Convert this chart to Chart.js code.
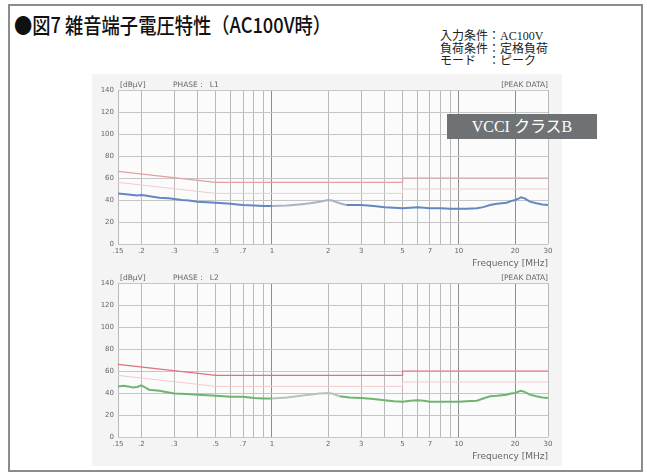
<!DOCTYPE html>
<html>
<head>
<meta charset="utf-8">
<script src="https://cdn.jsdelivr.net/npm/chart.js@4.4.0/dist/chart.umd.min.js"></script>
<style>
  body { margin: 0; background: #fff; width: 647px; height: 472px; overflow: hidden; position: relative;
         font-family: "Noto Sans CJK JP", sans-serif; }
  #frame { position: absolute; left: 8px; top: 4px; width: 631px; height: 464px; border: 2px solid #8c8c8c; }
  #title { position: absolute; left: 14px; top: 9px; font-size: 21px; font-weight: 500; color: #111; white-space: nowrap;
           transform: scaleX(0.87); transform-origin: left top; }
  #cond { position: absolute; left: 440px; top: 30px; font-size: 12px; line-height: 12.5px; color: #222;
          font-family: "Liberation Serif", "Noto Sans CJK JP", serif; white-space: nowrap; }
  #scan { position: absolute; left: 92px; top: 74px; width: 470px; height: 392px; background: #f4f4f4; }
  canvas { position: absolute; left: 92px; }
  #c1 { top: 74px; }
  #c2 { top: 267px; }
  #vcci { position: absolute; left: 447px; top: 114px; width: 150px; height: 25px; background: #6e7274; color: #fff;
          font-family: "Liberation Serif", "Noto Sans CJK JP", serif; font-size: 16px; line-height: 25px; text-align: center; }
</style>
</head>
<body>
<div id="frame"></div>
<div id="title">●図7 雑音端子電圧特性（AC100V時）</div>
<div id="cond">入力条件：AC100V<br>負荷条件：定格負荷<br>モード　：ピーク</div>
<div id="scan"></div>
<canvas id="c1" width="470" height="196"></canvas>
<canvas id="c2" width="470" height="196"></canvas>
<div id="vcci">VCCI クラスB</div>
<script>
// grid / tick values (MHz, dBuV)
const xGrid = [0.15, 0.2, 0.3, 0.4, 0.5, 0.6, 0.7, 0.8, 0.9, 1, 2, 3, 4, 5, 6, 7, 8, 9, 10, 20, 30];
const xLabelValues = [0.15, 0.2, 0.3, 0.5, 0.7, 1, 2, 3, 5, 7, 10, 20, 30];
const xLabelTexts = ['.15', '.2', '.3', '.5', '.7', '1', '2', '3', '5', '7', '10', '20', '30'];
const yMin = 0, yMax = 140, yStep = 10;

// VCCI class B limits
const limitFreq = [0.15, 0.5, 0.5, 5, 5, 30];
const limitQp = [66, 56, 56, 56, 60, 60];
const limitAv = [56, 46, 46, 46, 50, 50];

// measured peak, phase L1
const l1Freq = [0.15, 0.16, 0.17, 0.18, 0.19, 0.2, 0.21, 0.23, 0.25, 0.28, 0.3, 0.33, 0.36, 0.4, 0.45, 0.5, 0.55, 0.6, 0.65, 0.7, 0.8, 0.9, 1.0,
  1.2, 1.4, 1.6, 1.8, 2.0, 2.1, 2.3, 2.5, 2.8, 3.0, 3.5, 4.0, 4.5, 5.0, 5.5, 6.0, 6.5, 7.0, 8.0, 9.0, 10, 11, 12.5, 13.5, 14.7,
  16, 17, 18, 19, 20, 21, 21.5, 22.5, 24, 26, 28, 30];
const l1Level = [46, 45.5, 45, 44.5, 44, 44.5, 44, 43, 42, 41.5, 41, 40, 39.5, 38.5, 38, 37.5, 37, 36.5, 36, 35.5, 35, 34.5, 34.5,
  35, 36, 37, 38.5, 40, 39.5, 37, 35.5, 35.5, 35.5, 34.5, 33.5, 33, 32.5, 33, 33.5, 33, 32.5, 32.5, 32, 32, 32, 32.5, 33.5, 35.5,
  36.5, 37, 37.5, 39, 40, 41.5, 42.5, 41.5, 38.5, 37, 36, 35.5];

// measured peak, phase L2
const l2Freq = [0.15, 0.16, 0.17, 0.18, 0.19, 0.2, 0.21, 0.22, 0.25, 0.28, 0.3, 0.35, 0.4, 0.45, 0.5, 0.55, 0.6, 0.7, 0.8, 0.9, 1.0,
  1.2, 1.5, 1.8, 2.0, 2.1, 2.3, 2.6, 3.0, 3.5, 4.0, 4.5, 5.0, 5.5, 6.0, 6.5, 7.0, 8.0, 9.0, 10, 11, 12.5, 13.5, 14.7,
  16, 17, 18, 19, 20, 21, 21.5, 22.5, 24, 26, 28, 30];
const l2Level = [46, 46.5, 46, 45, 45.5, 47, 45, 43, 42, 40.5, 39.5, 39, 38.5, 38, 37.5, 37, 36.5, 36.5, 35.5, 35, 35,
  36, 38, 39.5, 40, 39.5, 37, 36, 35.5, 34.5, 33.5, 32.5, 32, 33, 33.5, 33, 32, 32, 32, 32, 32.5, 33, 35, 37,
  37.5, 38, 38.5, 39.5, 40, 41.5, 42, 41, 38.5, 37, 36, 35.5];

function pts(fx, vy) { return fx.map((f, i) => ({ x: f, y: vy[i] })); }

const decor = {
  id: 'decor',
  beforeDraw(chart) {
    const a = chart.chartArea, c = chart.ctx;
    c.save();
    c.fillStyle = '#fbfbfb';
    c.fillRect(a.left, a.top, a.right - a.left, a.bottom - a.top);
    c.restore();
  },
  afterDraw(chart, args, o) {
    const a = chart.chartArea, c = chart.ctx;
    c.save();
    c.fillStyle = '#666';
    c.font = '7.5px "DejaVu Sans"';
    c.textBaseline = 'bottom';
    c.textAlign = 'left';
    c.fillText('[dBμV]', a.left + 2, a.top - 1);
    c.fillText('PHASE :   ' + o.phase, a.left + 55, a.top - 1);
    c.textAlign = 'right';
    c.fillText('[PEAK DATA]', a.right, a.top - 1);
    c.font = '9px "DejaVu Sans"';
    c.textBaseline = 'top';
    c.fillText('Frequency [MHz]', a.right, a.bottom + 15);
    c.restore();
  }
};

function makeChart(id, phase, fx, vy, color, fade, limitColor) {
  new Chart(document.getElementById(id), {
    type: 'line',
    data: {
      datasets: [
        { data: pts(limitFreq, limitAv), borderColor: '#f0cccc', borderWidth: 1, pointRadius: 0 },
        { data: pts(limitFreq, limitQp), borderColor: limitColor, borderWidth: 1.2, pointRadius: 0 },
        { data: pts(fx, vy), borderColor: color, borderWidth: 2, pointRadius: 0,
          segment: { borderColor: ctx => (ctx.p0.parsed.x >= 1 && ctx.p1.parsed.x <= 2.5) ? fade : undefined } }
      ]
    },
    options: {
      responsive: false,
      animation: false,
      devicePixelRatio: 1,
      layout: { padding: { left: 0, right: 14, top: 16, bottom: 0 } },
      plugins: { legend: { display: false }, tooltip: { enabled: false }, decor: { phase: phase } },
      scales: {
        x: {
          type: 'logarithmic', min: 0.15, max: 30,
          afterBuildTicks: s => { s.ticks = xGrid.map(v => ({ value: v })); },
          afterFit: s => { s.height = 26; },
          grid: {
            color: ctx => [1, 10, 20].includes(ctx.tick && ctx.tick.value) ? '#8e8e8e' : '#b9b9b9',
            lineWidth: 1, drawTicks: false
          },
          border: { display: false },
          ticks: {
            autoSkip: false, maxRotation: 0, padding: 3, color: '#666',
            font: { family: 'DejaVu Sans', size: 7 },
            callback: v => { const i = xLabelValues.indexOf(v); return i < 0 ? '' : xLabelTexts[i]; }
          }
        },
        y: {
          min: yMin, max: yMax,
          afterFit: s => { s.width = 26; },
          grid: { color: '#c6c6c6', lineWidth: 1, drawTicks: false },
          border: { display: false },
          ticks: { stepSize: yStep, padding: 4, color: '#666', font: { family: 'DejaVu Sans', size: 7 } }
        }
      }
    },
    plugins: [decor]
  });
}

makeChart('c1', 'L1', l1Freq, l1Level, '#6486c4', '#a9b3c4', '#e2a0a0');
makeChart('c2', 'L2', l2Freq, l2Level, '#6fb46f', '#b8c2b8', '#e2707e');
</script>
</body>
</html>
